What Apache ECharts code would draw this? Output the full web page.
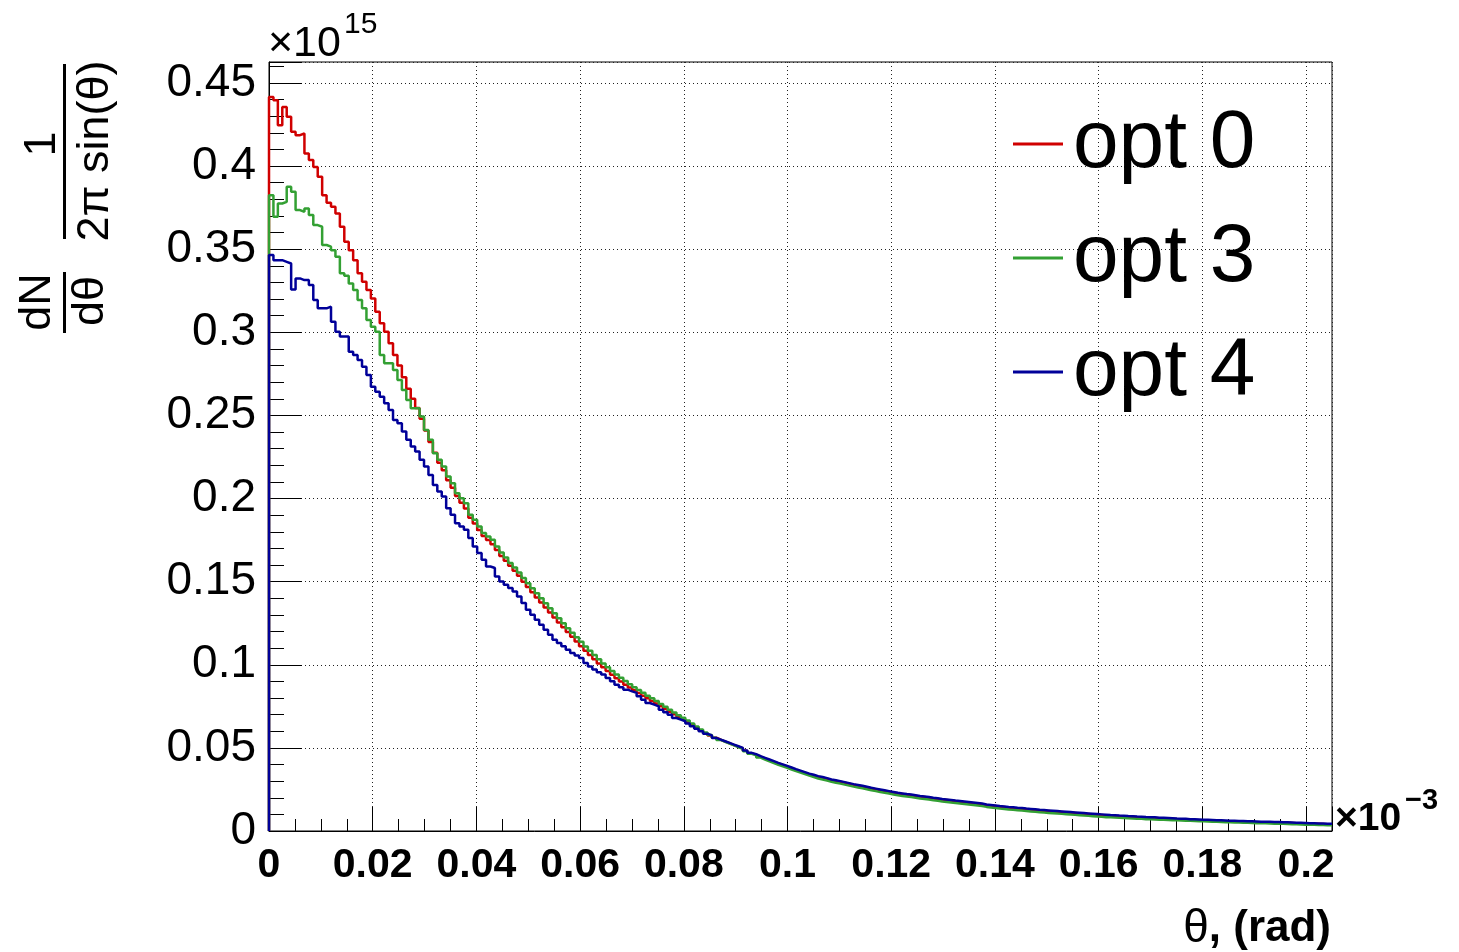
<!DOCTYPE html>
<html><head><meta charset="utf-8">
<script src="https://cdn.jsdelivr.net/npm/echarts@6/dist/echarts.min.js"></script>
<style>html,body{margin:0;padding:0;background:#fff}#c{width:1459px;height:952px}</style>
</head><body><div id="c"></div>
<script>
// histogram range (x in units of 1e-3 rad), bins, y-range (units of 1e15)
const X_MIN = 0, X_MAX = 0.205, N_BINS = 240;
const Y_MIN = 0, Y_MAX = 0.4626;
const seriesNames = ['opt 0', 'opt 3', 'opt 4'];
const seriesColors = ['#d00000', '#33a033', '#000099'];

const opt0 = [
.4416,.4396,.4246,.4356,.4296,.4206,.4186,.4196,.4076,.4036,
.3995,.3935,.3825,.3780,.3755,.3715,.3635,.3544,.3494,.3434,
.3355,.3304,.3254,.3204,.3124,.3054,.3004,.2934,.2864,.2800,
.2730,.2660,.2600,.2545,.2480,.2410,.2340,.2275,.2215,.2170,
.2110,.2065,.2015,.1975,.1940,.1885,.1850,.1810,.1775,.1750,
.1725,.1690,.1655,.1625,.1595,.1565,.1535,.1500,.1468,.1436,
.1405,.1375,.1345,.1315,.1285,.1255,.1226,.1197,.1168,.1140,
.1112,.1085,.1058,.1033,.1008,.0985,.0962,.0940,.0919,.0899,
.0880,.0863,.0846,.0830,.0814,.0798,.0782,.0767,.0750,.0734,
.0718,.0702,.0687,.0672,.0656,.0640,.0622,.0605,.0588,.0575,
.0561,.0549,.0538,.0528,.0517,.0507,.0497,.0483,.0468,.0458,
.0447,.0436,.0426,.0416,.0406,.0397,.0388,.0378,.0368,.0359,
.0350,.0341,.0334,.0326,.0321,.0314,.0306,.0301,.0296,.0290,
.0284,.0278,.0273,.0268,.0262,.0256,.0251,.0246,.0241,.0236,
.0231,.0226,.0222,.0218,.0215,.0211,.0207,.0204,.0200,.0196,
.0193,.0189,.0186,.0183,.0179,.0176,.0173,.0170,.0167,.0164,
.0161,.0156,.0153,.0150,.0146,.0144,.0141,.0139,.0136,.0134,
.0131,.0129,.0127,.0124,.0122,.0120,.0118,.0116,.0114,.0112,
.0110,.0108,.0106,.0104,.0102,.0100,.0098,.0096,.0094,.0092,
.0091,.0089,.0088,.0086,.0085,.0083,.0082,.0080,.0079,.0078,
.0076,.0075,.0074,.0073,.0071,.0070,.0069,.0067,.0066,.0065,
.0064,.0063,.0062,.0061,.0060,.0059,.0058,.0057,.0057,.0056,
.0055,.0054,.0053,.0053,.0052,.0051,.0051,.0050,.0049,.0049,
.0048,.0047,.0046,.0045,.0044,.0043,.0043,.0042,.0041,.0041
];

const opt3 = [
.3825,.3695,.3775,.3785,.3875,.3845,.3735,.3725,.3745,.3705,
.3645,.3635,.3525,.3515,.3494,.3454,.3355,.3340,.3294,.3254,
.3194,.3144,.3074,.3034,.3004,.2864,.2814,.2814,.2773,.2713,
.2653,.2593,.2543,.2543,.2493,.2413,.2353,.2273,.2233,.2192,
.2132,.2092,.2032,.2002,.1972,.1902,.1872,.1832,.1792,.1772,
.1752,.1712,.1675,.1645,.1612,.1585,.1555,.1522,.1490,.1460,
.1430,.1400,.1370,.1340,.1310,.1280,.1250,.1220,.1192,.1165,
.1138,.1110,.1084,.1058,.1033,.1008,.0985,.0963,.0942,.0922,
.0902,.0883,.0865,.0848,.0831,.0814,.0798,.0782,.0764,.0747,
.0730,.0713,.0697,.0681,.0665,.0647,.0629,.0611,.0593,.0577,
.0561,.0548,.0537,.0526,.0515,.0504,.0494,.0479,.0464,.0455,
.0442,.0430,.0419,.0408,.0398,.0389,.0380,.0370,.0360,.0351,
.0342,.0333,.0325,.0316,.0310,.0303,.0296,.0290,.0285,.0279,
.0273,.0267,.0262,.0257,.0251,.0245,.0240,.0235,.0230,.0225,
.0220,.0215,.0211,.0207,.0204,.0200,.0196,.0193,.0189,.0185,
.0182,.0178,.0175,.0172,.0168,.0165,.0162,.0159,.0156,.0153,
.0150,.0145,.0142,.0139,.0135,.0133,.0130,.0128,.0125,.0123,
.0120,.0118,.0116,.0113,.0111,.0109,.0107,.0105,.0103,.0101,
.0099,.0097,.0095,.0093,.0091,.0089,.0087,.0085,.0083,.0082,
.0081,.0079,.0078,.0076,.0075,.0074,.0073,.0071,.0070,.0069,
.0068,.0067,.0066,.0065,.0064,.0063,.0062,.0061,.0060,.0059,
.0058,.0057,.0056,.0055,.0054,.0053,.0052,.0051,.0051,.0050,
.0049,.0048,.0047,.0046,.0046,.0045,.0044,.0044,.0043,.0042,
.0041,.0040,.0039,.0038,.0038,.0037,.0036,.0036,.0035,.0035
];

const opt4 = [
.3465,.3434,.3434,.3424,.3414,.3258,.3324,.3314,.3314,.3284,
.3194,.3144,.3144,.3154,.3064,.3004,.2974,.2974,.2883,.2864,
.2834,.2793,.2743,.2673,.2643,.2613,.2573,.2533,.2473,.2453,
.2403,.2353,.2313,.2283,.2233,.2192,.2142,.2082,.2042,.2012,
.1942,.1902,.1852,.1832,.1812,.1762,.1712,.1672,.1632,.1591,
.1582,.1531,.1501,.1481,.1462,.1441,.1411,.1371,.1331,.1301,
.1271,.1241,.1211,.1181,.1151,.1131,.1111,.1091,.1071,.1055,
.1041,.1011,.0990,.0971,.0955,.0941,.0921,.0901,.0880,.0865,
.0850,.0840,.0831,.0810,.0790,.0770,.0760,.0750,.0730,.0715,
.0700,.0680,.0670,.0660,.0646,.0630,.0615,.0600,.0585,.0575,
.0560,.0550,.0540,.0530,.0520,.0510,.0500,.0485,.0470,.0462,
.0450,.0440,.0430,.0420,.0410,.0401,.0392,.0382,.0372,.0363,
.0354,.0345,.0338,.0330,.0325,.0318,.0310,.0305,.0300,.0294,
.0288,.0282,.0277,.0272,.0266,.0260,.0255,.0250,.0245,.0240,
.0235,.0230,.0226,.0222,.0219,.0215,.0211,.0208,.0204,.0200,
.0197,.0193,.0190,.0187,.0183,.0180,.0177,.0174,.0171,.0168,
.0165,.0160,.0157,.0154,.0150,.0148,.0145,.0143,.0140,.0138,
.0135,.0133,.0131,.0128,.0126,.0124,.0122,.0120,.0118,.0116,
.0114,.0112,.0110,.0108,.0106,.0104,.0102,.0100,.0098,.0096,
.0095,.0093,.0092,.0090,.0089,.0087,.0086,.0084,.0083,.0082,
.0080,.0079,.0078,.0077,.0075,.0074,.0073,.0071,.0070,.0069,
.0068,.0067,.0066,.0065,.0064,.0063,.0062,.0061,.0060,.0060,
.0059,.0058,.0057,.0056,.0056,.0055,.0054,.0054,.0053,.0052,
.0051,.0050,.0049,.0048,.0047,.0046,.0045,.0045,.0044,.0044
];

const seriesValues = [opt0, opt3, opt4];

// histogram outline: left edge from 0, then one step per bin
function toSteps(vals) {
  const w = (X_MAX - X_MIN) / vals.length;
  const pts = [[X_MIN, 0]];
  vals.forEach((v, i) => pts.push([X_MIN + i * w, v]));
  pts.push([X_MAX, vals[vals.length - 1]]);
  return pts;
}

const FONT = '"Liberation Sans", Arial, Helvetica, sans-serif';
const chart = echarts.init(document.getElementById('c'), null, {renderer: 'canvas'});

const rotText = (text, x, y, size) => ({
  type: 'text', x: x, y: y, rotation: Math.PI / 2,
  style: {text: text, font: size + 'px ' + FONT, fill: '#000',
    align: 'center', verticalAlign: 'middle', textAlign: 'center', textVerticalAlign: 'middle'}
});

chart.setOption({
  animation: false,
  backgroundColor: '#fff',
  grid: {left: 269, top: 62, right: 127, bottom: 121, show: true,
    borderColor: '#000', borderWidth: 1, backgroundColor: 'transparent', containLabel: false},
  xAxis: {
    type: 'value', min: X_MIN, max: X_MAX, interval: 0.02,
    axisLine: {show: true, onZero: false, lineStyle: {color: '#000', width: 1}},
    axisTick: {show: true, inside: true, length: 24, lineStyle: {color: '#000', width: 1}},
    minorTick: {show: true, splitNumber: 4, length: 12, lineStyle: {color: '#000', width: 1}},
    splitLine: {show: true, lineStyle: {color: '#222', width: 1, type: [1, 3]}},
    axisLabel: {show: true, margin: 14, showMaxLabel: false, color: '#000',
      fontFamily: FONT, fontSize: 41, fontWeight: 'bold'}
  },
  yAxis: {
    type: 'value', min: Y_MIN, max: Y_MAX, interval: 0.05,
    axisLine: {show: true, onZero: false, lineStyle: {color: '#000', width: 1}},
    axisTick: {show: true, inside: true, length: 33, lineStyle: {color: '#000', width: 1}},
    minorTick: {show: true, splitNumber: 5, length: 15, lineStyle: {color: '#000', width: 1}},
    splitLine: {show: true, lineStyle: {color: '#222', width: 1, type: [1, 3]}},
    axisLabel: {show: true, margin: 13, showMaxLabel: false, color: '#000',
      fontFamily: FONT, fontSize: 46}
  },
  legend: {
    orient: 'vertical', left: 1008, top: 98, itemWidth: 50, itemHeight: 3,
    icon: 'rect', itemGap: 32, selectedMode: false,
    data: seriesNames,
    textStyle: {fontFamily: FONT, fontSize: 82, lineHeight: 82, color: '#000', padding: [0, 0, 0, 5]}
  },
  series: seriesNames.map((name, k) => ({
    name: name, type: 'line', step: 'end', showSymbol: false, symbol: 'none',
    color: seriesColors[k],
    lineStyle: {color: seriesColors[k], width: 2.5},
    data: toSteps(seriesValues[k]),
    z: 3 + k
  })),
  graphic: [
    // y-axis title: dN/dθ · 1/(2π sin(θ)), rotated
    rotText('dN', 38, 302, 45),
    {type: 'rect', shape: {x: 63, y: 272, width: 3, height: 61}, style: {fill: '#000'}},
    rotText('dθ', 91, 301, 45),
    rotText('1', 43, 144, 45),
    {type: 'rect', shape: {x: 63, y: 64, width: 3, height: 175}, style: {fill: '#000'}},
    rotText('2π sin(θ)', 96, 151, 45),
    // y exponent ×10^15
    {type: 'text', x: 268, y: 44, style: {text: '×10', font: '43px ' + FONT, fill: '#000',
      align: 'left', verticalAlign: 'middle', textAlign: 'left', textVerticalAlign: 'middle'}},
    {type: 'text', x: 344, y: 25, style: {text: '15', font: '30px ' + FONT, fill: '#000',
      align: 'left', verticalAlign: 'middle', textAlign: 'left', textVerticalAlign: 'middle'}},
    // x exponent ×10^-3
    {type: 'text', x: 1335, y: 819, style: {text: '×10', font: 'bold 39px ' + FONT, fill: '#000',
      align: 'left', verticalAlign: 'middle', textAlign: 'left', textVerticalAlign: 'middle'}},
    {type: 'text', x: 1405, y: 801, style: {text: '−3', font: 'bold 29px ' + FONT, fill: '#000',
      align: 'left', verticalAlign: 'middle', textAlign: 'left', textVerticalAlign: 'middle'}},
    // x title
    {type: 'text', x: 1331, y: 929, style: {
      text: '{t|θ}{b|, (rad)}', align: 'right', verticalAlign: 'middle',
      textAlign: 'right', textVerticalAlign: 'middle',
      rich: {t: {font: '46px ' + FONT, fill: '#000'}, b: {font: 'bold 44px ' + FONT, fill: '#000'}}
    }}
  ]
});
</script>
</body></html>
